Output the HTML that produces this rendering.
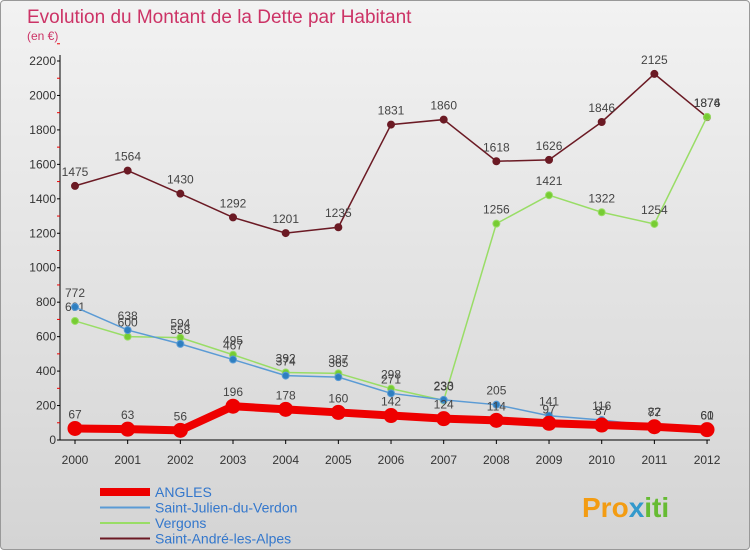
<!DOCTYPE html>
<html><head><meta charset="utf-8"><style>
body{margin:0;width:750px;height:550px;overflow:hidden;font-family:"Liberation Sans",sans-serif;}
#wrap{position:absolute;left:0;top:0;width:748px;height:548px;border:1px solid #999;border-radius:4px;background:linear-gradient(#f2f2f2,#d4d4d4);}
</style></head><body>
<div id="wrap">
<svg id="c" width="750" height="550" style="position:absolute;left:-1px;top:-1px">
<text x="27" y="23" font-size="19" fill="#cc3366">Evolution du Montant de la Dette par Habitant</text>
<text x="27" y="40" font-size="12" fill="#cc3366">(en €)</text>
<g id="axes"></g><g id="series"></g><g id="legend"></g>
<text x="582" y="517" font-size="28" font-weight="bold" fill="#f39c12">Pro<tspan fill="#3399cc">x</tspan><tspan fill="#66bb33">iti</tspan></text>
</svg></div>
<script>
const years=[2000,2001,2002,2003,2004,2005,2006,2007,2008,2009,2010,2011,2012];
const angles=[67,63,56,196,178,160,142,124,114,97,87,77,60];
const stJulien=[772,638,558,467,374,365,271,233,205,141,116,82,61];
const vergons=[691,600,594,495,392,387,298,230,1256,1421,1322,1254,1876];
const stAndre=[1475,1564,1430,1292,1201,1235,1831,1860,1618,1626,1846,2125,1874];
const yTicks=[0,200,400,600,800,1000,1200,1400,1600,1800,2000,2200];
const NS="http://www.w3.org/2000/svg";
const X=i=>75+i*52.67, Y=v=>440-v*(379/2200);
function mk(t,a,p){const e=document.createElementNS(NS,t);for(const k in a)e.setAttribute(k,a[k]);p.appendChild(e);return e;}
const ax=document.getElementById('axes');
let l=mk('line',{x1:60,y1:Y(0),x2:710,y2:Y(0),stroke:'#000'},ax);


l=mk('line',{x1:60,y1:55,x2:60,y2:Y(0),stroke:'#000'},ax);


yTicks.forEach(v=>{const t=mk('text',{x:56,y:Y(v)+4,'font-size':12,'text-anchor':'end',fill:'#333'},ax);t.textContent=v;


mk('line',{x1:57,y1:Y(v),x2:60,y2:Y(v),stroke:'#000'},ax);
mk('line',{x1:57,y1:Y(v+100),x2:60,y2:Y(v+100),stroke:'#e00'},ax);});
years.forEach((y,i)=>{mk('line',{x1:X(i),y1:Y(0),x2:X(i),y2:Y(0)+4,stroke:'#000'},ax);
const t=mk('text',{x:X(i),y:Y(0)+24,'font-size':12,'text-anchor':'middle',fill:'#333'},ax);t.textContent=y;

});
const sg=document.getElementById('series');
function series(d,col,w,r,name,dot){const g=mk('g',{},sg);


mk('polyline',{points:d.map((v,i)=>X(i)+','+Y(v)).join(' '),fill:'none',stroke:col,'stroke-width':w},g);
d.forEach((v,i)=>{const c=mk('circle',{cx:X(i),cy:Y(v),r:r,fill:dot,stroke:col,'stroke-width':1},g);


const t=mk('text',{x:X(i),y:Y(v)-10,'font-size':12,'text-anchor':'middle',fill:'#444'},g);t.textContent=v;

});}
series(stAndre,'#6b1a24',1.5,3.5,'saint-andre','#6b1a24');
series(vergons,'#99dd66',1.5,3.5,'vergons','#77cc33');
series(stJulien,'#5b9bd5',1.5,3.5,'saint-julien','#2e7fc0');
series(angles,'#ee0000',8,7,'angles','#ee0000');
const lg=document.getElementById('legend');
[['ANGLES','#ee0000',8],['Saint-Julien-du-Verdon','#5b9bd5',2],['Vergons','#99dd66',2],['Saint-André-les-Alpes','#6b1a24',2]].forEach((e,i)=>{
const y=492+i*15.5;const g=mk('g',{},lg);


mk('line',{x1:100,y1:y,x2:150,y2:y,stroke:e[1],'stroke-width':e[2]},g);
const t=mk('text',{x:155,y:y+5,'font-size':14,fill:'#3377cc'},g);t.textContent=e[0];});
</script></body></html>
